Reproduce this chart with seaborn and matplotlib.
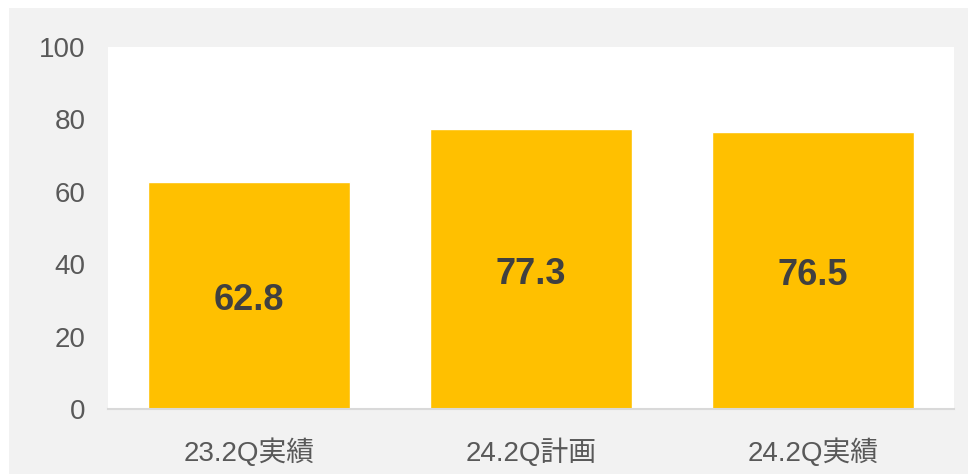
import pandas as pd
import seaborn as sns
import matplotlib.pyplot as plt
from matplotlib.patches import Rectangle

# -------------------------------------------------------------------
# Data
# -------------------------------------------------------------------
categories = ["23.2Q実績", "24.2Q計画", "24.2Q実績"]
values = [62.8, 77.3, 76.5]
y_ticks = [0, 20, 40, 60, 80, 100]

BAR_COLOR = "#FFC000"
PANEL_GRAY = "#F2F2F2"
TICK_COLOR = "#595959"
LABEL_COLOR = "#404040"

sns.set_theme(style="white")
plt.rcParams["font.family"] = ["Liberation Sans", "Noto Sans CJK JP", "DejaVu Sans"]

df = pd.DataFrame({"category": categories, "value": values})

fig = plt.figure(figsize=(9.68, 4.74), dpi=100, facecolor="white")
# grey chart frame behind the plot area
fig.add_artist(
    Rectangle((9 / 968, 0), 1 - 9 / 968, 466 / 474, transform=fig.transFigure,
              facecolor=PANEL_GRAY, edgecolor="none", zorder=-10)
)
ax = fig.add_axes([108 / 968, 65 / 474, 846 / 968, 362 / 474])
ax.set_facecolor("white")

sns.barplot(data=df, x="category", y="value", color=BAR_COLOR, width=0.713,
            saturation=1, ax=ax)

# value labels centred inside bars (baseline shifted so digits sit mid-bar)
for i, v in enumerate(values):
    ax.annotate(f"{v:.1f}", xy=(i, v / 2), xytext=(0, -10.5),
                textcoords="offset points", ha="center", va="baseline",
                fontsize=26, fontweight="bold", color=LABEL_COLOR)

ax.set_ylim(0, 100)
ax.set_yticks(y_ticks)
ax.set_xlabel("")
ax.set_ylabel("")
ax.tick_params(axis="both", length=0, colors=TICK_COLOR, labelsize=20)
ax.tick_params(axis="y", pad=16)
ax.tick_params(axis="x", pad=21)
for side in ["top", "right", "left"]:
    ax.spines[side].set_visible(False)
ax.spines["bottom"].set_color("#D9D9D9")
ax.spines["bottom"].set_linewidth(1.5)

fig.savefig("out.png", dpi=100, facecolor=fig.get_facecolor())
